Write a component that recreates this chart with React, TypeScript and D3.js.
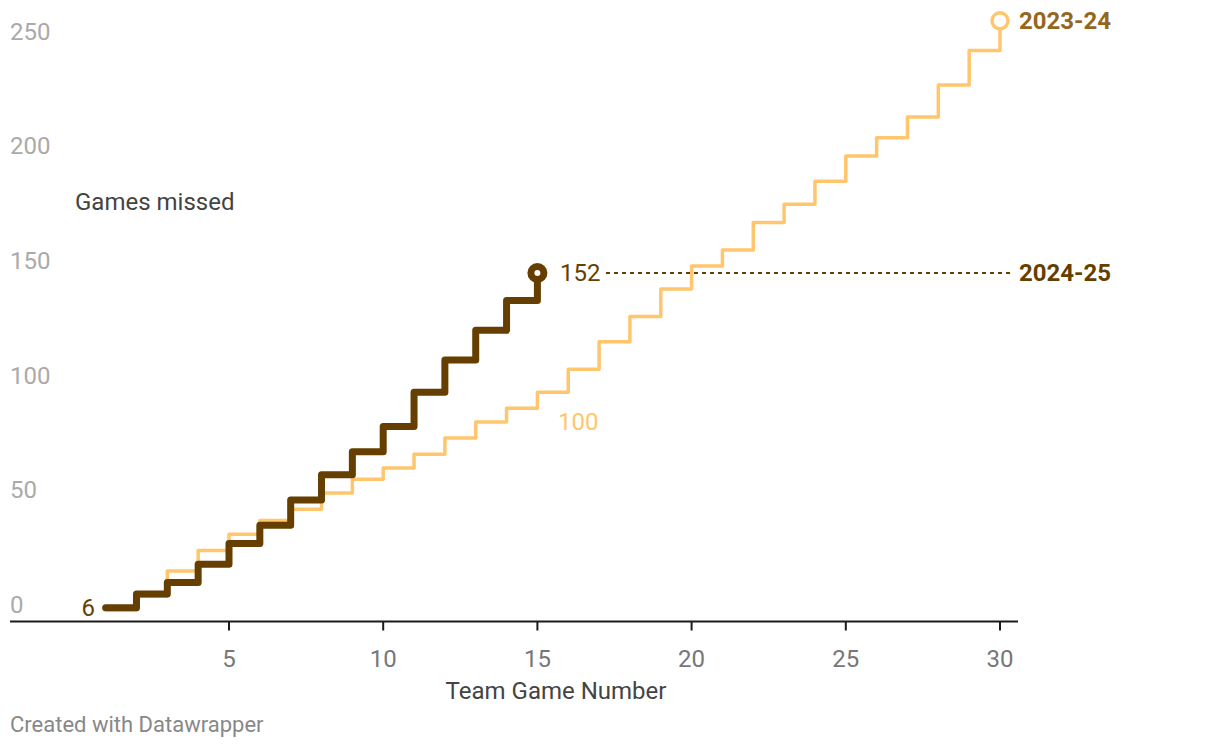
import React from "react";
import * as d3 from "d3";

const games2425: number[] = [1, 2, 3, 4, 5, 6, 7, 8, 9, 10, 11, 12, 13, 14, 15];
const missed2425: number[] = [6, 12, 17, 25, 34, 42, 53, 64, 74, 85, 100, 114, 127, 140, 152];

const games2324: number[] = [1, 2, 3, 4, 5, 6, 7, 8, 9, 10, 11, 12, 13, 14, 15, 16, 17, 18, 19, 20, 21, 22, 23, 24, 25, 26, 27, 28, 29, 30];
const missed2324: number[] = [5, 11, 22, 31, 38, 44, 49, 56, 62, 67, 73, 80, 87, 93, 100, 110, 122, 133, 145, 155, 162, 174, 182, 192, 203, 211, 220, 234, 249, 262];

const xTicks: number[] = [5, 10, 15, 20, 25, 30];
const yTicks: number[] = [0, 50, 100, 150, 200, 250];

const label2425 = "2024-25";
const label2324 = "2023-24";
const yTitle = "Games missed";
const xTitle = "Team Game Number";
const footer = "Created with Datawrapper";

const DARK = "#663f00";
const LIGHT = "#ffc66d";
const GOLD = "#95661c";
const FONT = "Roboto, 'Noto Sans', sans-serif";

export default function App() {
  const W = 1220;
  const H = 748;
  const x = d3.scaleLinear().domain([5, 30]).range([229, 1000]);
  const y = d3.scaleLinear().domain([0, 250]).range([621.5, 48.3]);

  const line = d3
    .line<[number, number]>()
    .x((d) => x(d[0]))
    .y((d) => y(d[1]))
    .curve(d3.curveStepAfter);

  const d2425 = line(games2425.map((g, i) => [g, missed2425[i]] as [number, number])) || "";
  const d2324 = line(games2324.map((g, i) => [g, missed2324[i]] as [number, number])) || "";

  const last2425 = missed2425[missed2425.length - 1];
  const lastG2425 = games2425[games2425.length - 1];
  const last2324 = missed2324[missed2324.length - 1];
  const lastG2324 = games2324[games2324.length - 1];
  const cmpValue = missed2324[games2324.indexOf(lastG2425)];

  return (
    <svg
      width={W}
      height={H}
      style={{ position: "absolute", left: 0, top: 0, background: "#fff" }}
      fontFamily={FONT}
    >
      {/* y tick labels */}
      {yTicks.map((t) => (
        <text key={t} x={10} y={y(t) - 8.5} fontSize={24} fill="#aaaaaa">
          {t}
        </text>
      ))}
      <text x={75} y={y(183) + 8.5} fontSize={24} fill="#444">
        {yTitle}
      </text>

      {/* x axis */}
      <line x1={10} x2={1018} y1={y(0)} y2={y(0)} stroke="#1a1a1a" strokeWidth={2} />
      {xTicks.map((t) => (
        <g key={t}>
          <line x1={x(t)} x2={x(t)} y1={y(0)} y2={y(0) + 9} stroke="#1a1a1a" strokeWidth={2} />
          <text x={x(t)} y={666.5} fontSize={24} fill="#777" textAnchor="middle">
            {t}
          </text>
        </g>
      ))}
      <text x={556} y={698.5} fontSize={24} fill="#444" textAnchor="middle">
        {xTitle}
      </text>

      {/* lines */}
      <path d={d2324} fill="none" stroke={LIGHT} strokeWidth={3.5} strokeLinejoin="round" strokeLinecap="round" />
      <path d={d2425} fill="none" stroke={DARK} strokeWidth={7} strokeLinejoin="round" strokeLinecap="round" />

      {/* dashed reference */}
      <line
        x1={606}
        x2={1010}
        y1={y(last2425)}
        y2={y(last2425)}
        stroke={DARK}
        strokeWidth={2}
        strokeDasharray="4 4"
      />

      {/* end markers */}
      <circle cx={x(lastG2425)} cy={y(last2425)} r={6.5} fill="#fff" stroke={DARK} strokeWidth={7} />
      <circle cx={x(lastG2324)} cy={y(last2324)} r={8} fill="#fff" stroke={LIGHT} strokeWidth={3.5} />

      {/* labels */}
      <text x={560} y={y(last2425) + 8.5} fontSize={24} fill={DARK}>
        {last2425}
      </text>
      <text x={1019} y={y(last2425) + 8.5} fontSize={24} fontWeight={700} fill={DARK}>
        {label2425}
      </text>
      <text x={1019} y={y(last2324) + 8.5} fontSize={24} fontWeight={700} fill={GOLD}>
        {label2324}
      </text>
      <text x={558} y={y(cmpValue) + 37.5} fontSize={24} fill={LIGHT}>
        {cmpValue}
      </text>
      <text x={95} y={y(missed2425[0]) + 8.5} fontSize={24} fill={DARK} textAnchor="end">
        {missed2425[0]}
      </text>

      <text x={10} y={732} fontSize={22} fill="#888">
        {footer}
      </text>
    </svg>
  );
}
